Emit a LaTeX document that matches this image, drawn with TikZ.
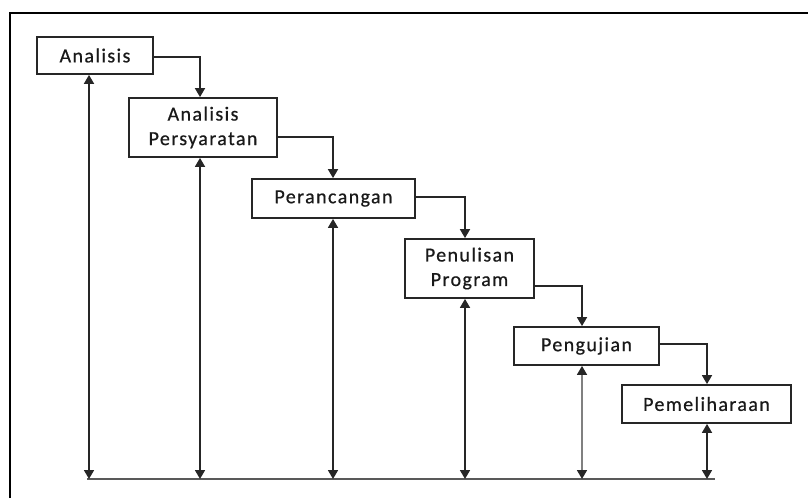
\documentclass[tikz,border=0pt]{standalone}
\usepackage{fontspec}
\setmainfont[LetterSpace=7,FakeBold=0.6]{Carlito}
\usetikzlibrary{arrows.meta}
\begin{document}
\begin{tikzpicture}[x=1pt,y=-1pt,
  stagebox/.style={draw=black!85,line width=1.8pt,inner sep=0pt,align=center,
    font=\fontsize{20}{24.5}\selectfont,text=black!90},
  flow/.style={line width=1.7pt,draw=black!85,-{Triangle[width=10pt,length=9pt]}},
  back/.style={line width=1.7pt,draw=black!85,{Triangle[width=10pt,length=9pt]}-{Triangle[width=10pt,length=9pt]}}]
\useasboundingbox (0,0) rectangle (808,498);
\draw[line width=2.6pt] (10,498) -- (10,13) -- (808,13);
% boxes: centre, width, height
\node[stagebox,minimum width=116pt,minimum height=37pt] (a1) at (95,55.5) {Analisis};
\node[stagebox,minimum width=148pt,minimum height=59pt] (a2) at (203,127.5) {Analisis\\Persyaratan};
\node[stagebox,minimum width=163pt,minimum height=39pt] (a3) at (333.5,198.5) {Perancangan};
\node[stagebox,minimum width=129pt,minimum height=59pt] (a4) at (469.5,268.5) {Penulisan\\Program};
\node[stagebox,minimum width=145pt,minimum height=38pt] (a5) at (586.5,346) {Pengujian};
\node[stagebox,minimum width=169pt,minimum height=38pt] (a6) at (706.5,404) {Pemeliharaan};
% forward connectors
\draw[flow] ([yshift=-1.5pt]a1.east) -| ([xshift=-3pt]a2.north);
\draw[flow] ([yshift=-9.5pt]a2.east) -| ([xshift=-0.5pt]a3.north);
\draw[flow] ([yshift=1.5pt]a3.east) -| ([xshift=-4.5pt]a4.north);
\draw[flow] ([yshift=-17.5pt]a4.east) -| ([xshift=-4.5pt]a5.north);
\draw[flow] ([yshift=2pt]a5.east) -| ([xshift=0.5pt]a6.north);
% bottom line
\coordinate (bl) at (87,479);
\coordinate (br) at (715,479);
\draw[line width=1.8pt,draw=black!65] (bl) -- (br);
% feedback arrows
\draw[back] ([xshift=-6pt]a1.south) -- ([xshift=-6pt]a1.south |- bl);
\draw[back] ([xshift=-3pt]a2.south) -- ([xshift=-3pt]a2.south |- bl);
\draw[back] ([xshift=-0.5pt]a3.south) -- ([xshift=-0.5pt]a3.south |- bl);
\draw[back] ([xshift=-4.5pt]a4.south) -- ([xshift=-4.5pt]a4.south |- bl);
\draw[back,draw=black!50,
  {Triangle[width=10pt,length=9pt,fill=black!85,color=black!85]}-{Triangle[width=10pt,length=9pt,fill=black!85,color=black!85]}]
  ([xshift=-4.5pt]a5.south) -- ([xshift=-4.5pt]a5.south |- bl);
\draw[back] ([xshift=0.5pt]a6.south) -- ([xshift=0.5pt]a6.south |- bl);
\end{tikzpicture}
\end{document}
